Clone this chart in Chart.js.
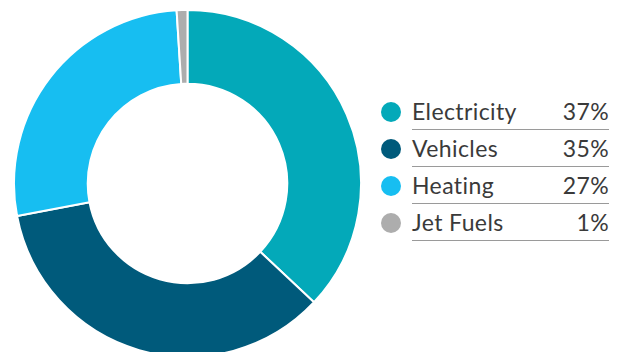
<!DOCTYPE html>
<html>
<head>
<meta charset="utf-8">
<script src="https://cdn.jsdelivr.net/npm/chart.js@4.4.1/dist/chart.umd.min.js"></script>
<style>
    html, body {
        margin: 0;
        padding: 0;
        background: #fff;
        width: 622px;
        height: 352px;
        overflow: hidden;
        font-family: Lato, "Noto Sans", sans-serif;
    }
    #chartWrap {
        position: absolute;
        left: 13px;
        top: 9px;
        width: 349px;
        height: 349px;
    }
    #legend {
        position: absolute;
        left: 381px;
        top: 93px;
        width: 228px;
    }
    .row {
        display: flex;
        align-items: center;
        height: 37px;
    }
    .dot {
        width: 20px;
        height: 20px;
        border-radius: 50%;
        margin-right: 11px;
        flex: none;
    }
    .cell {
        flex: 1;
        height: 37px;
        box-sizing: border-box;
        border-bottom: 1px solid #9a9a9a;
        display: flex;
        align-items: center;
        justify-content: space-between;
        font-size: 23px;
        letter-spacing: 0.4px;
        color: #3a3a3a;
    }
</style>
</head>
<body>
<div id="chartWrap"><canvas id="energyChart"></canvas></div>
<div id="legend"></div>

<script>
// Energy use by source, in percent
const categories = ["Electricity", "Vehicles", "Heating", "Jet Fuels"];
const shares = [37, 35, 27, 1];
const sliceColors = ["#03a9b9", "#005a7b", "#17bef1", "#adadad"];

const chart = new Chart(document.getElementById("energyChart"), {
    type: "doughnut",
    data: {
        labels: categories,
        datasets: [
            {
                data: shares,
                backgroundColor: sliceColors,
                borderColor: "#fff",
                borderWidth: 2,
            },
        ],
    },
    options: {
        responsive: true,
        maintainAspectRatio: false,
        animation: false,
        cutout: "57.5%",
        layout: { padding: 0 },
        plugins: {
            legend: { display: false },
            tooltip: { enabled: false },
        },
    },
});

// HTML legend with the percentage on the right of each row
function buildLegend() {
    const legend = document.getElementById("legend");
    const items = Chart.overrides.doughnut.plugins.legend.labels.generateLabels(chart);
    items.forEach((item, i) => {
        const row = document.createElement("div");
        row.className = "row";
        row.innerHTML =
            `<span class="dot" style="background:${item.fillStyle}"></span>` +
            `<div class="cell"><span>${item.text}</span><span>${shares[i]}%</span></div>`;
        legend.appendChild(row);
    });
}

buildLegend();
</script>
</body>
</html>
